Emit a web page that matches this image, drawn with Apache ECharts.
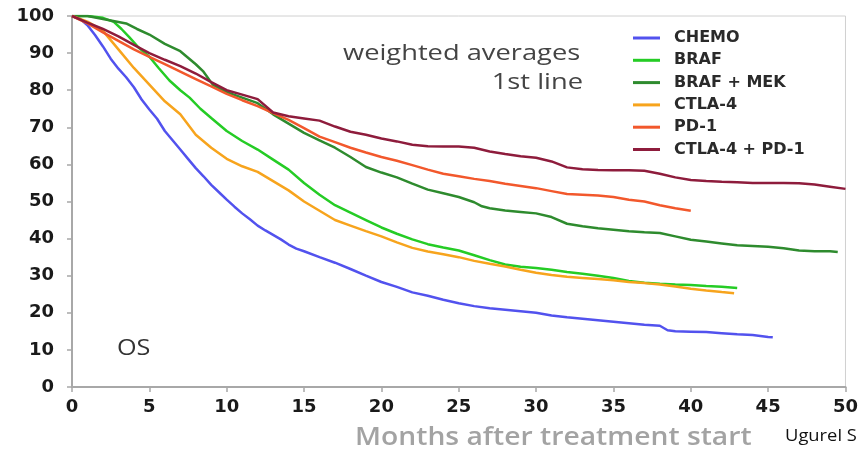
<!DOCTYPE html>
<html>
<head>
<meta charset="utf-8">
<script src="https://cdn.jsdelivr.net/npm/echarts@6/dist/echarts.min.js"></script>
<style>html,body{margin:0;padding:0;background:#fff}#c{width:861px;height:451px}</style>
</head>
<body>
<div id="c"></div>
<script>
const seriesNames = ['CHEMO', 'BRAF', 'BRAF + MEK', 'CTLA-4', 'PD-1', 'CTLA-4 + PD-1'];
const xTicks = [0, 5, 10, 15, 20, 25, 30, 35, 40, 45, 50];
const yTicks = [0, 10, 20, 30, 40, 50, 60, 70, 80, 90, 100];

const chemo = [[0,100],[0.5,99.3],[1,97.5],[1.5,94.8],[2,91.8],[2.5,88.5],[3,85.8],[3.5,83.5],[4,80.8],[4.5,77.5],[5,74.8],[5.5,72.3],[6,69],[6.5,66.5],[7,64],[7.5,61.5],[8,59],[8.5,56.8],[9,54.5],[9.5,52.5],[10,50.5],[10.5,48.6],[11,46.8],[11.5,45.2],[12,43.5],[12.5,42.2],[13,41],[13.5,39.8],[14,38.4],[14.5,37.3],[15,36.6],[16,35],[17,33.5],[18,31.8],[19,30],[20,28.3],[21,27],[22,25.5],[23,24.6],[24,23.5],[25,22.6],[26,21.8],[27,21.2],[28,20.8],[29,20.4],[30,20],[31,19.3],[32,18.8],[33,18.4],[34,18],[35,17.6],[36,17.2],[37,16.8],[38,16.5],[38.5,15.3],[39,15],[40,14.9],[41,14.8],[42,14.5],[43,14.2],[44,14],[45,13.5],[45.3,13.4]];
const braf = [[0,100],[1,100],[2,99.5],[2.7,98.4],[3.2,96.5],[3.7,94.3],[4.3,91.5],[5,89],[5.6,86],[6.3,82.6],[7,80],[7.6,78],[8.3,75],[9,72.5],[10,69],[11,66.3],[12,64],[13,61.3],[14,58.6],[15,55],[16,51.8],[17,49],[18,47],[19,45],[20,43],[21,41.3],[22,39.8],[23,38.5],[24,37.6],[25,36.8],[26,35.5],[27,34.2],[28,33],[29,32.4],[30,32.1],[31,31.6],[32,31],[33,30.5],[34,30],[35,29.4],[36,28.6],[37,28.1],[38,27.8],[39,27.6],[40,27.5],[41,27.2],[42,27],[43,26.7]];
const brafMek = [[0,100],[1,100],[2,99.2],[3,98.4],[3.5,98],[4.2,96.5],[5,95],[6,92.5],[7,90.5],[8,87],[8.5,85],[9.1,81.5],[10,79.5],[11,78],[12,76.5],[13,73.5],[14,71],[15,68.5],[16,66.5],[17,64.5],[18,62],[19,59.3],[20,57.8],[21,56.5],[22,54.8],[23,53.2],[24,52.2],[25,51.2],[26,49.8],[26.5,48.7],[27,48.2],[28,47.6],[29,47.2],[30,46.8],[31,45.8],[32,44],[33,43.3],[34,42.8],[35,42.4],[36,42],[37,41.7],[38,41.5],[39,40.6],[40,39.7],[41,39.2],[42,38.7],[43,38.2],[44,38],[45,37.8],[46,37.4],[47,36.8],[48,36.6],[49,36.6],[49.5,36.4]];
const ctla4 = [[0,100],[1,98.5],[2,96],[3,91],[4,86],[5,81.5],[6,77],[7,73.5],[8,68],[9,64.5],[10,61.5],[11,59.5],[12,58],[13,55.5],[14,53],[15,50],[16,47.5],[17,45],[18,43.5],[19,42],[20,40.6],[21,39],[22,37.5],[23,36.5],[24,35.8],[25,35],[26,34],[27,33.2],[28,32.5],[29,31.6],[30,30.8],[31,30.2],[32,29.7],[33,29.4],[34,29.1],[35,28.8],[36,28.3],[37,28],[38,27.6],[39,27.1],[40,26.5],[41,26],[42,25.6],[42.8,25.3]];
const pd1 = [[0,100],[1,98],[2,95.6],[3,93.3],[4,91],[5,89],[6,87],[7,85],[8,83],[9,81],[10,79],[11,77.3],[12,75.7],[13,73.8],[14,72],[15,69.8],[16,67.5],[17,66],[18,64.5],[19,63.2],[20,62],[21,61],[22,59.8],[23,58.6],[24,57.5],[25,56.8],[26,56.1],[27,55.5],[28,54.8],[29,54.2],[30,53.6],[31,52.8],[32,52],[33,51.8],[34,51.6],[35,51.2],[36,50.5],[37,50],[38,49],[39,48.2],[40,47.5]];
const ctla4Pd1 = [[0,100],[1,98.2],[2,96.5],[3,94.5],[4,92.2],[5,90],[6,88.2],[7,86.5],[8,84.5],[9,82.2],[10,80],[11,78.8],[12,77.6],[13,74],[14,73],[15,72.4],[16,71.8],[17,70.2],[18,68.8],[19,68],[20,67],[21,66.2],[22,65.3],[23,64.9],[24,64.8],[25,64.8],[26,64.5],[27,63.5],[28,62.8],[29,62.2],[30,61.8],[31,60.8],[32,59.2],[33,58.7],[34,58.5],[35,58.4],[36,58.4],[37,58.3],[38,57.5],[39,56.5],[40,55.8],[41,55.5],[42,55.3],[43,55.2],[44,55],[45,55],[46,55],[47,54.9],[48,54.6],[49,54],[50,53.4]];

const allData = [chemo, braf, brafMek, ctla4, pd1, ctla4Pd1];
const colors = ['#5252ee', '#25cc25', '#2e8b2e', '#f7a41d', '#f2582c', '#8e1c3c'];

const chart = echarts.init(document.getElementById('c'), null, {renderer: 'canvas'});
chart.setOption({
  animation: false,
  backgroundColor: '#fff',
  grid: {left: 72, right: 14, top: 16, bottom: 64, show: true, borderColor: '#d0d0d0', borderWidth: 1},
  legend: {
    orient: 'vertical', left: 628, top: 25, itemWidth: 27, itemHeight: 3, itemGap: 6.3,
    icon: 'rect', data: seriesNames,
    textStyle: {fontFamily: 'DejaVu Sans', fontWeight: 'bold', fontSize: 16, color: '#2a2a2a', lineHeight: 16, padding: [0,0,0,9]}
  },
  xAxis: {
    type: 'value', min: 0, max: 50, interval: 5,
    axisLine: {lineStyle: {color: '#a8a8a8', width: 2}},
    axisTick: {show: true, length: 5, lineStyle: {color: '#a8a8a8', width: 1.5}},
    axisLabel: {margin: 11, fontFamily: 'DejaVu Sans', fontWeight: 'bold', fontSize: 18, color: '#1a1a1a',
      formatter: v => xTicks.includes(v) ? String(v) : ''},
    splitLine: {show: false}
  },
  yAxis: {
    type: 'value', min: 0, max: 100, interval: 10,
    axisLine: {show: true, lineStyle: {color: '#a8a8a8', width: 2}},
    axisTick: {show: true, length: 5, lineStyle: {color: '#a8a8a8', width: 1.5}},
    axisLabel: {margin: 18, fontFamily: 'DejaVu Sans', fontWeight: 'bold', fontSize: 18, color: '#1a1a1a',
      formatter: v => yTicks.includes(v) ? String(v) : ''},
    splitLine: {show: false}
  },
  graphic: [
    {type: 'text', x: 343, y: 43, scaleX: 1.24, style: {text: 'weighted averages', font: '22px "Open Sans"', fill: '#444'}},
    {type: 'text', x: 583, y: 72, scaleX: 1.24, style: {text: '1st line', font: '22px "Open Sans"', fill: '#444', align: 'right'}},
    {type: 'text', x: 117, y: 339, scaleX: 1.2, style: {text: 'OS', font: '21px "Open Sans"', fill: '#333'}},
    {type: 'text', x: 355, y: 425, scaleX: 1.13, style: {text: 'Months after treatment start', font: '600 25px "Open Sans"', fill: '#a3a3a3'}},
    {type: 'text', x: 785, y: 428, scaleX: 1.08, style: {text: 'Ugurel S', font: '17px "Open Sans"', fill: '#111'}}
  ],
  series: seriesNames.map((n, i) => ({
    name: n, type: 'line', data: allData[i], showSymbol: false, symbol: 'none',
    lineStyle: {width: 2.5, color: colors[i]}, itemStyle: {color: colors[i]}, z: 2 + i
  }))
});
</script>
</body>
</html>
